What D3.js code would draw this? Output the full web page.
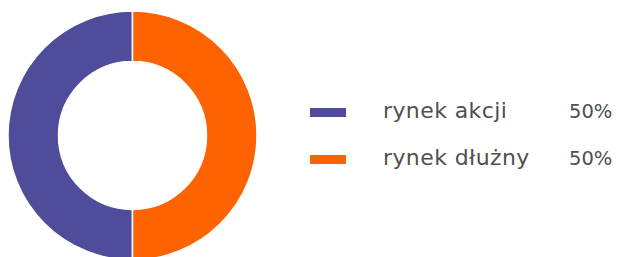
<!DOCTYPE html>
<html>
<head>
<meta charset="utf-8">
<script src="https://cdn.jsdelivr.net/npm/d3@7"></script>
<style>
  body { margin: 0; background: #fff; }
  svg { display: block; }
</style>
</head>
<body>
<svg></svg>
<script>
// data
const categories = ["rynek akcji", "rynek dłużny"];
const shares = [50, 50];
const shareLabels = ["50%", "50%"];
const colors = ["#4f4c9c", "#ff6200"];

const width = 622, height = 257;
const svg = d3.select("svg")
    .attr("width", width)
    .attr("height", height);

const data = categories.map((c, i) => ({ name: c, value: shares[i], label: shareLabels[i], color: colors[i] }));

// donut
const center = { x: 132.5, y: 135.5 };
const outerR = 124.5, innerR = 74;

const pie = d3.pie()
    .sort(null)
    .value(d => d.value)
    .startAngle(Math.PI)
    .endAngle(3 * Math.PI);

const arc = d3.arc().innerRadius(innerR).outerRadius(outerR);

svg.append("g")
    .attr("transform", `translate(${center.x},${center.y})`)
    .selectAll("path")
    .data(pie(data))
    .join("path")
    .attr("d", arc)
    .attr("fill", d => d.data.color)
    .attr("stroke", "#fff")
    .attr("stroke-width", 1.5);

// legend
const rowY = d3.scalePoint().domain(categories).range([118, 165]);

const legend = svg.append("g")
    .selectAll("g")
    .data(data)
    .join("g")
    .attr("transform", d => `translate(0,${rowY(d.name)})`);

legend.append("rect")
    .attr("x", 310)
    .attr("y", -10)
    .attr("width", 36)
    .attr("height", 9)
    .attr("fill", d => d.color);

legend.append("text")
    .attr("x", 383)
    .attr("y", 0)
    .attr("font-family", "DejaVu Sans, sans-serif")
    .attr("font-size", 22)
    .attr("letter-spacing", 0.4)
    .attr("fill", "#4f4f4f")
    .text(d => d.name);

legend.append("text")
    .attr("x", 569)
    .attr("y", 0)
    .attr("font-family", "DejaVu Sans, sans-serif")
    .attr("font-size", 19.5)
    .attr("fill", "#4f4f4f")
    .text(d => d.label);
</script>
</body>
</html>
